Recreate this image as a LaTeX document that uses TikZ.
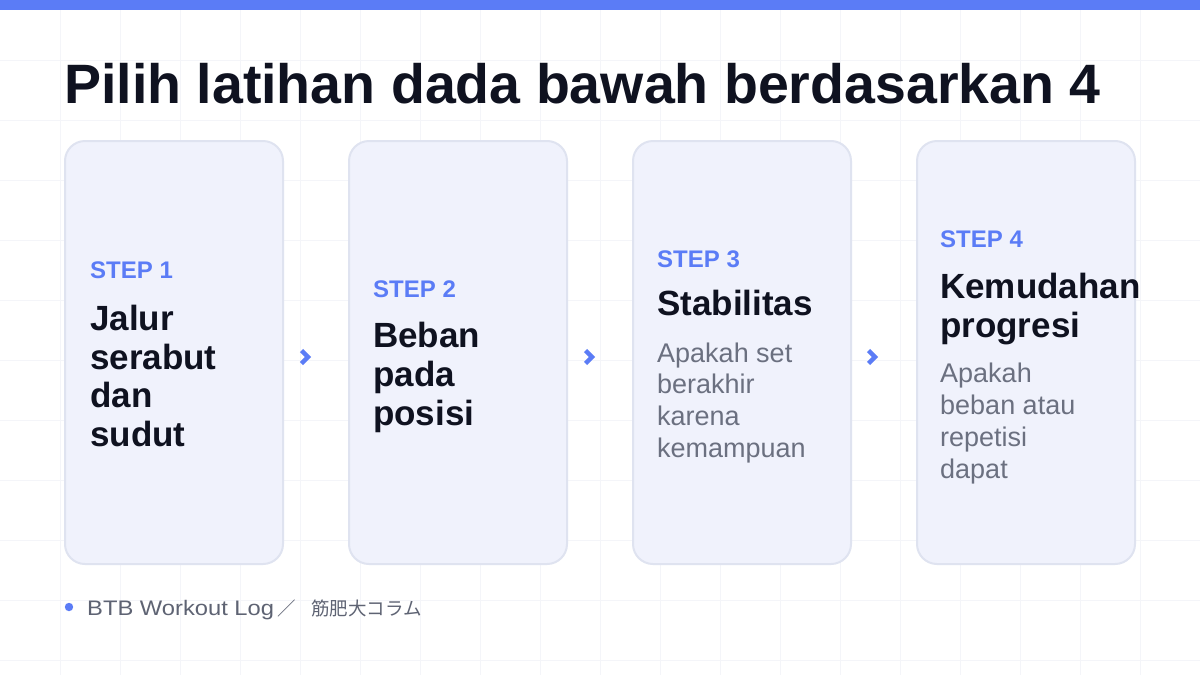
\documentclass[tikz,border=0pt]{standalone}
\usepackage{fontspec}
\setmainfont{Liberation Sans}
\newfontfamily\cjkfont{Noto Sans CJK JP}
\definecolor{accent}{HTML}{5B7CF6}
\definecolor{gridc}{HTML}{F4F5F9}
\definecolor{cardfill}{HTML}{F0F2FC}
\definecolor{cardline}{HTML}{DFE3F0}
\definecolor{headc}{HTML}{0F1220}
\definecolor{bodyc}{HTML}{6B7080}
\definecolor{footc}{HTML}{5E6373}
\tikzset{
  card/.style={draw=cardline, line width=2pt, fill=cardfill, rounded corners=20pt, minimum width=218pt, minimum height=423pt, inner sep=0pt},
  txt/.style={anchor=base west, inner sep=0pt},
  steplabel/.style={txt, text=accent, font=\fontsize{24}{28}\selectfont\bfseries},
  headline/.style={txt, text=headc, font=\fontsize{35}{40}\selectfont\bfseries},
  bodyline/.style={txt, text=bodyc, font=\fontsize{27}{32}\selectfont},
  chevpath/.style={draw=accent, line width=4.5pt, miter limit=10, line join=miter}
}
\begin{document}
\begin{tikzpicture}[x=1pt,y=-1pt]
\useasboundingbox (0,0) rectangle (1200,675);
\fill[white] (0,0) rectangle (1200,675);
% grid
\foreach \gx in {60,120,...,1140} \draw[gridc, line width=1pt] (\gx,0) -- (\gx,675);
\foreach \gy in {60,120,...,660} \draw[gridc, line width=1pt] (0,\gy) -- (1200,\gy);
% top bar
\fill[accent] (0,0) rectangle (1200,10);
% title
\node[txt, text=headc, font=\fontsize{55.5}{60}\selectfont\bfseries] (title) at (64,103) {Pilih latihan dada bawah berdasarkan 4};
% cards
\node[card] (c1) at (174,352.5) {};
\node[card] (c2) at (458,352.5) {};
\node[card] (c3) at (742,352.5) {};
\node[card] (c4) at (1026,352.5) {};
% card 1
\node[steplabel] (s1) at (90,278) {STEP 1};
\node[headline] (h1a) at (90,330) {Jalur};
\node[headline] (h1b) at (90,369) {serabut};
\node[headline] (h1c) at (90,407) {dan};
\node[headline] (h1d) at (90,446) {sudut};
% card 2
\node[steplabel] (s2) at (373,297) {STEP 2};
\node[headline] (h2a) at (373,347) {Beban};
\node[headline] (h2b) at (373,386) {pada};
\node[headline] (h2c) at (373,425) {posisi};
% card 3
\node[steplabel] (s3) at (657,267) {STEP 3};
\node[headline] (h3a) at (657,315) {Stabilitas};
\node[bodyline] (b3a) at (657,362) {Apakah set};
\node[bodyline] (b3b) at (657,393) {berakhir};
\node[bodyline] (b3c) at (657,425) {karena};
\node[bodyline] (b3d) at (657,457) {kemampuan};
% card 4
\node[steplabel] (s4) at (940,247) {STEP 4};
\node[headline] (h4a) at (940,298) {Kemudahan};
\node[headline] (h4b) at (940,337) {progresi};
\node[bodyline] (b4a) at (940,382) {Apakah};
\node[bodyline] (b4b) at (940,414) {beban atau};
\node[bodyline] (b4c) at (940,446) {repetisi};
\node[bodyline] (b4d) at (940,478) {dapat};
% chevrons
\coordinate (a1) at (306,357);
\coordinate (a2) at (590,357);
\coordinate (a3) at (873,357);
\foreach \a in {a1,a2,a3}
  \draw[chevpath, shift={(\a)}] (-4.5,-6.5) -- (2,0) -- (-4.5,6.5);
% footer
\fill[accent] (69,607) circle (4.2);
\node[txt, text=footc, font=\fontsize{21}{24}\selectfont] (foot) at (87,615) {\scalebox{1.13}[1]{BTB Workout Log}};
\node[txt, text=footc, font=\fontsize{18.5}{22}\selectfont\cjkfont] (footjp) at (277,615) {／\hspace{15.5pt}筋肥大コラム};
\end{tikzpicture}
\end{document}
